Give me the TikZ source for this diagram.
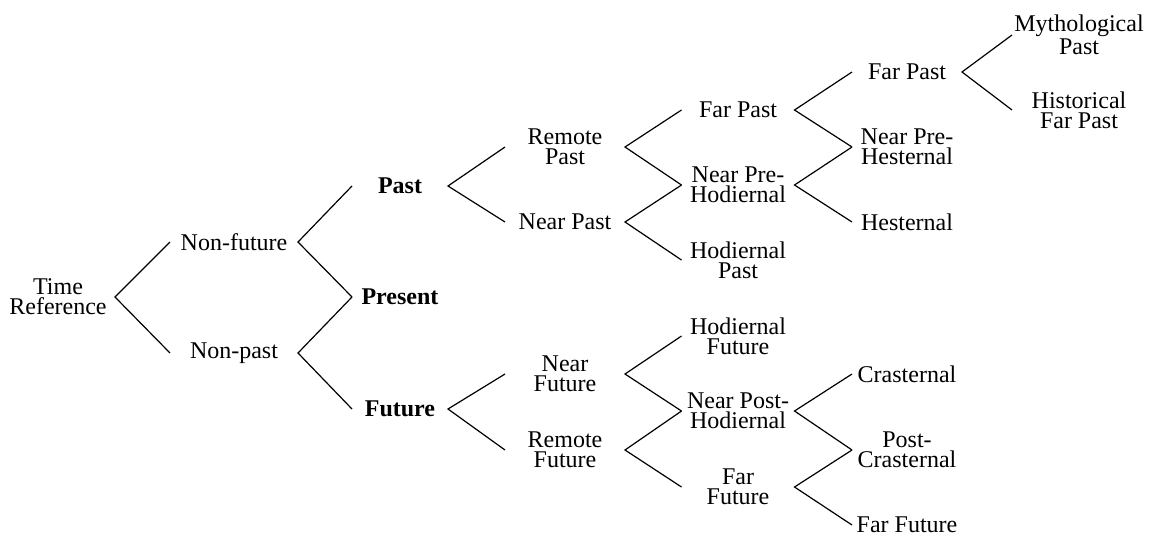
\documentclass[tikz,border=0pt]{standalone}
\usepackage{fontspec}
\setmainfont{Liberation Serif}
\begin{document}
\begin{tikzpicture}[x=0.5pt,y=-0.5pt,
  lv/.style={inner sep=0pt,outer sep=0pt,align=center,minimum width=#1,font=\fontsize{12}{10}\selectfont},
  bf/.style={font=\fontsize{12}{10}\selectfont\bfseries},
  br/.style={draw=black,line width=0.6pt}
]
\useasboundingbox (0,0) rectangle (1149,536);
% root and first split
\node[lv=57pt] (tr) at (58,297) {Time\\Reference};
\node[lv=64pt] (nf) at (234,242) {Non-future};
\node[lv=64pt] (np) at (234,353) {Non-past};
% tenses
\node[lv=48pt,bf] (pa) at (400,186) {Past};
\node[lv=48pt,bf] (pr) at (400,297) {Present};
\node[lv=48pt,bf] (fu) at (400,409) {Future};
% remoteness
\node[lv=60pt] (rp) at (565,147) {Remote\\Past};
\node[lv=60pt] (nrp) at (565,222) {Near Past};
\node[lv=60pt] (nrf) at (565,374) {Near\\Future};
\node[lv=60pt] (rf) at (565,450) {Remote\\Future};
\node[lv=56.5pt] (fp) at (738,110) {Far Past};
\node[lv=56.5pt] (nph) at (738,185) {Near Pre-\\Hodiernal};
\node[lv=56.5pt] (hp) at (738,260) {Hodiernal\\Past};
\node[lv=56.5pt] (hf) at (738,336) {Hodiernal\\Future};
\node[lv=56.5pt] (nqh) at (738,411) {Near Post-\\Hodiernal};
\node[lv=56.5pt] (ff) at (738,487) {Far\\Future};
\node[lv=55pt] (fp2) at (907,72) {Far Past};
\node[lv=55pt] (npe) at (907,147) {Near Pre-\\Hesternal};
\node[lv=55pt] (he) at (907,222) {Hesternal};
\node[lv=55pt] (cr) at (907,374) {Crasternal};
\node[lv=55pt] (pc) at (907,450) {Post-\\Crasternal};
\node[lv=55pt] (ff2) at (907,525) {Far Future};
\node[lv=67pt] (my) at (1079,35) {Mythological\\Past};
\node[lv=67pt] (hi) at (1079,110) {Historical\\Far Past};
% branches
\draw[br] (nf.west) -- (tr.east) -- (np.west);
\draw[br] (pa.west) -- (nf.east) -- (pr.west);
\draw[br] (pr.west) -- (np.east) -- (fu.west);
\draw[br] (rp.west) -- (pa.east) -- (nrp.west);
\draw[br] (nrf.west) -- (fu.east) -- (rf.west);
\draw[br] (fp.west) -- (rp.east) -- (nph.west);
\draw[br] (nph.west) -- (nrp.east) -- (hp.west);
\draw[br] (hf.west) -- (nrf.east) -- (nqh.west);
\draw[br] (nqh.west) -- (rf.east) -- (ff.west);
\draw[br] (fp2.west) -- (fp.east) -- (npe.west);
\draw[br] (npe.west) -- (nph.east) -- (he.west);
\draw[br] (cr.west) -- (nqh.east) -- (pc.west);
\draw[br] (pc.west) -- (ff.east) -- (ff2.west);
\draw[br] (my.west) -- (fp2.east) -- (hi.west);
\end{tikzpicture}
\end{document}
